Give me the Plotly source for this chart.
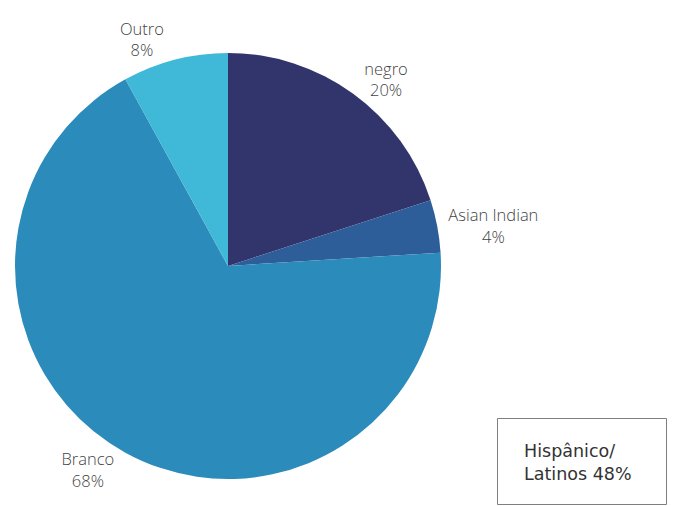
import plotly.graph_objects as go

labels = ["negro", "Asian Indian", "Branco", "Outro"]
values = [20, 4, 68, 8]
colors = ["#31356B", "#2E5E99", "#2B8BBA", "#40B8D8"]
box_text = "Hispânico/<br>Latinos 48%"

W, H = 673, 506


def px(x):
    return x / W


def py(y):
    return 1 - y / H


label_font = dict(family="Open Sans", size=16.5, color="#444444", weight=300)

fig = go.Figure(go.Pie(
    labels=labels,
    values=values,
    sort=False,
    direction="clockwise",
    rotation=0,
    marker=dict(colors=colors, line=dict(width=0)),
    textposition="outside",
    texttemplate="%{label}<br>%{percent:.0%}",
    textfont=label_font,
    outsidetextfont=label_font,
    hoverinfo="label+percent",
    showlegend=False,
    domain=dict(x=[px(15), px(441)], y=[py(479), py(53)]),
    automargin=False,
))

fig.add_shape(type="rect", xref="paper", yref="paper",
              x0=px(497.5), x1=px(666.5), y0=py(504.5), y1=py(418.5),
              line=dict(color="#7F7F7F", width=1), fillcolor="white")
fig.add_annotation(xref="paper", yref="paper", x=px(522), y=py(462),
                   xanchor="left", yanchor="middle", align="left",
                   text=box_text, showarrow=False,
                   font=dict(family="DejaVu Sans", size=17.5, color="#333333"))

fig.update_layout(
    width=W, height=H,
    margin=dict(l=0, r=0, t=0, b=0),
    paper_bgcolor="white", plot_bgcolor="white",
)

fig.write_html(
    "out.html",
    config={"displayModeBar": False},
    post_script="document.body.style.margin='0';document.body.style.overflow='hidden';",
)
